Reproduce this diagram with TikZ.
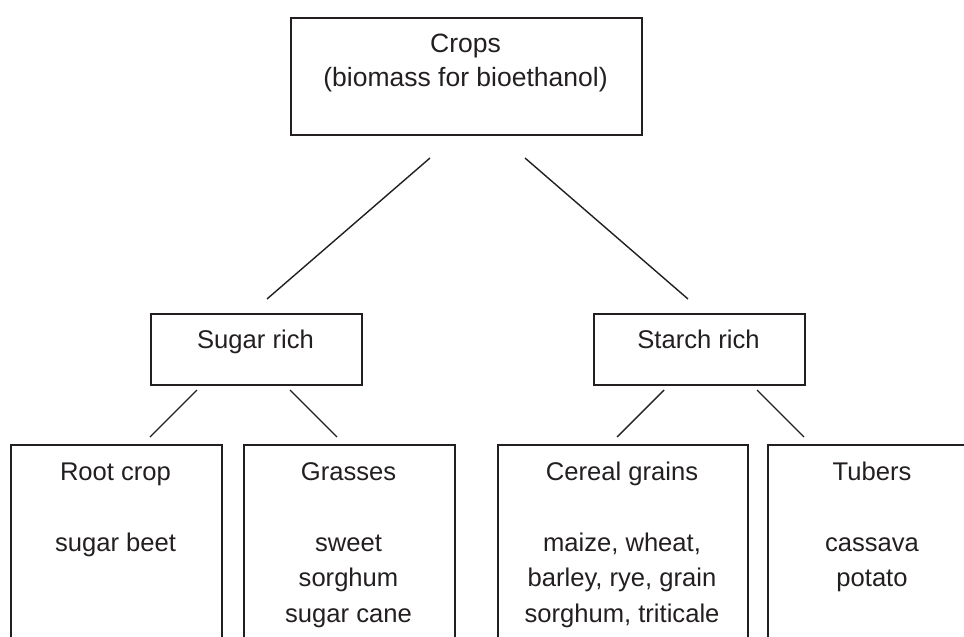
\documentclass[tikz,border=0pt]{standalone}
\usepackage{fontspec}
\setmainfont{Liberation Sans}
\definecolor{ink}{HTML}{231F20}
\begin{document}
\begin{tikzpicture}[x=1pt,y=-1pt,
  box/.style={draw=ink, line width=1.5pt, rectangle, inner sep=0pt, anchor=north west},
  txt/.style={inner sep=0pt, anchor=north, align=center, text=ink, font=\fontsize{25.6}{35.5}\selectfont},
  link/.style={draw=ink, line width=1.4pt}]
\useasboundingbox (0,0) rectangle (964,637);
\clip (0,0) rectangle (964,637);
% boxes
\node[box, minimum width=351pt, minimum height=117pt] (crops) at (290,17) {};
\node[box, minimum width=211pt, minimum height=71pt] (sugar) at (150,313) {};
\node[box, minimum width=211pt, minimum height=71pt] (starch) at (593,313) {};
\node[box, minimum width=211pt, minimum height=300pt] (root) at (10,444) {};
\node[box, minimum width=211pt, minimum height=300pt] (grass) at (243,444) {};
\node[box, minimum width=250pt, minimum height=300pt] (cereal) at (497,444) {};
\node[box, minimum width=260pt, minimum height=300pt] (tuber) at (767,444) {};
% texts
\node[txt, font=\fontsize{26.5}{34.5}\selectfont] (cropsT) at (465.5,28) {\strut Crops\\(biomass for bioethanol)};
\node[txt] (sugarT) at (255.5,323.5) {\strut Sugar rich};
\node[txt] (starchT) at (698.5,323.5) {\strut Starch rich};
\node[txt] (rootT) at (115.5,455) {\strut Root crop\\[35.5pt]sugar beet};
\node[txt] (grassT) at (348.5,455) {\strut Grasses\\[35.5pt]sweet\\sorghum\\sugar cane};
\node[txt] (cerealT) at (622,455) {\strut Cereal grains\\[35.5pt]maize, wheat,\\barley, rye, grain\\sorghum, triticale};
\node[txt] (tuberT) at (872,455) {\strut Tubers\\[35.5pt]cassava\\potato};
% connector end points
\coordinate (c1a) at (430,158); \coordinate (c1b) at (267,299);
\coordinate (c2a) at (525,158); \coordinate (c2b) at (688,299);
\coordinate (s1a) at (197,390); \coordinate (s1b) at (150,437);
\coordinate (s2a) at (290,390); \coordinate (s2b) at (337,437);
\coordinate (t1a) at (664,390); \coordinate (t1b) at (617,437);
\coordinate (t2a) at (757,390); \coordinate (t2b) at (804,437);
\draw[link] (c1a) -- (c1b);
\draw[link] (c2a) -- (c2b);
\draw[link] (s1a) -- (s1b);
\draw[link] (s2a) -- (s2b);
\draw[link] (t1a) -- (t1b);
\draw[link] (t2a) -- (t2b);
\end{tikzpicture}
\end{document}
